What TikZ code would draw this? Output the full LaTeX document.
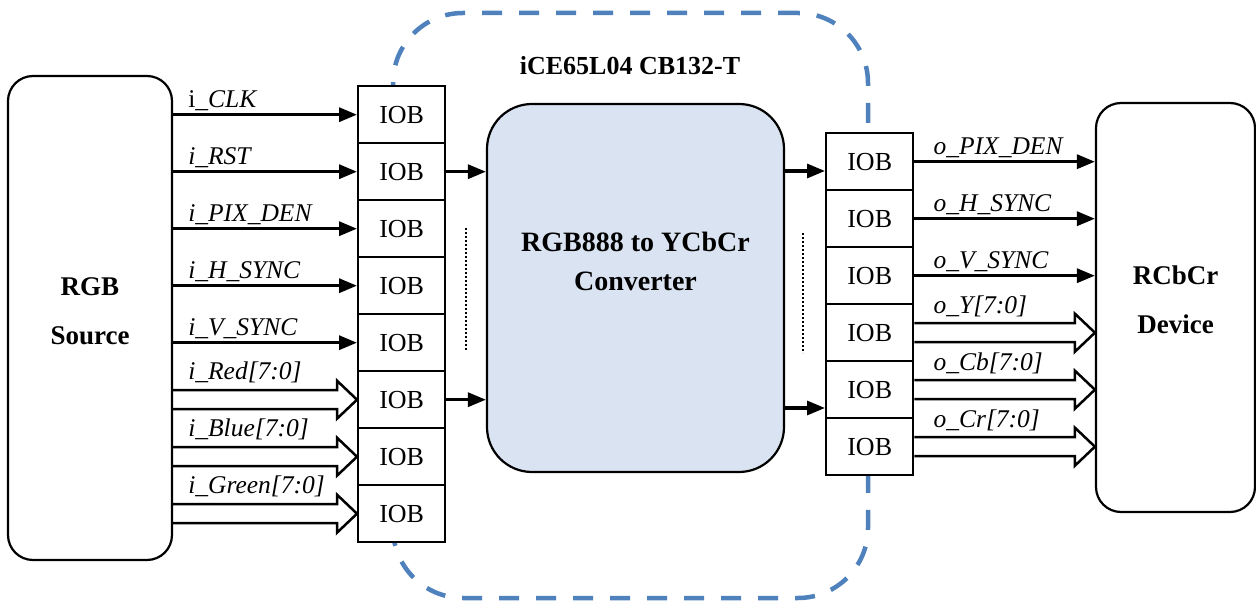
\documentclass[tikz,border=0pt]{standalone}
\usepackage{fontspec}
\setmainfont{Liberation Serif}
\usetikzlibrary{arrows.meta,calc}

\definecolor{chipblue}{RGB}{79,129,189}
\definecolor{convfill}{RGB}{218,227,241}

% hollow bus arrow from #1 to the tip #2
\newcommand\busarrow[2]{%
  \draw[bus] ($(#1)+(0,-9.5)$) -- ($(#2)+(-20,-9.5)$) -- ($(#2)+(-20,-19)$)
    -- (#2) -- ($(#2)+(-20,19)$) -- ($(#2)+(-20,9.5)$) -- ($(#1)+(0,9.5)$);}

\begin{document}
\begin{tikzpicture}[x=1pt,y=-1pt,
  iob/.style={draw, line width=2.4pt, fill=white, minimum width=87pt,
    minimum height=57pt, inner sep=0pt, anchor=north west,
    font=\fontsize{26}{30}\selectfont},
  blk/.style={draw, line width=2.2pt},
  blktxt/.style={align=center, font=\fontsize{27}{49}\selectfont\bfseries},
  chipbox/.style={draw=chipblue, line width=4.5pt, rounded corners=70pt,
    dash pattern=on 20pt off 17pt},
  sig/.style={line width=3.2pt, -{Triangle[length=18pt,width=14pt]}},
  bus/.style={line width=2.5pt, line join=miter},
  lbl/.style={anchor=base west, inner sep=0pt,
    font=\fontsize{25.5}{30}\selectfont\itshape},
  dots/.style={line width=1.8pt, dash pattern=on 1.8pt off 2.2pt},
]
\useasboundingbox (0,0) rectangle (1256,601);

% FPGA outline
\node[chipbox, minimum width=475pt, minimum height=585pt] (chip) at (630.5,305.5) {};
\node[font=\fontsize{26}{30}\selectfont\bfseries] (title) at (630,66) {iCE65L04 CB132-T};

% source, converter and sink
\node[blk, rounded corners=25pt, minimum width=164pt, minimum height=484pt] (src) at (90,318) {};
\node[blktxt] (srctxt) at ($(src.center)+(0,-7)$) {RGB\\Source};
\node[draw, line width=2.2pt, fill=convfill, rounded corners=45pt,
  minimum width=297pt, minimum height=368pt] (conv) at (635.5,288) {};
\node[blktxt, font=\fontsize{28}{39}\selectfont\bfseries] (convtxt)
  at ($(conv.center)+(0,-27)$) {RGB888 to YCbCr\\Converter};
\node[blk, rounded corners=25pt, minimum width=159pt, minimum height=409pt] (dev) at (1175.5,307.5) {};
\node[blktxt] (devtxt) at ($(dev.center)+(0,-8)$) {RCbCr\\Device};

% input IOB column
\foreach \i [evaluate=\i as \y using {85+57*(\i-1)}] in {1,...,8}
  \node[iob] (L\i) at (357,\y) {IOB};
% output IOB column
\foreach \i [evaluate=\i as \y using {132+57*(\i-1)}] in {1,...,6}
  \node[iob] (R\i) at (825,\y) {IOB};

% input signals
\foreach \i in {1,...,5}
  \draw[sig] (src.east |- L\i.west) -- (L\i.west);
\foreach \i in {6,7,8} {
  \coordinate (bs\i) at (src.east |- L\i.west);
  \busarrow{bs\i}{L\i.west}
}
\node[lbl] (tclk) at ($(src.east |- L1.west)+(15,-7)$) {\upshape i\_\itshape CLK};
\node[lbl] (trst) at ($(src.east |- L2.west)+(15,-7)$) {i\_RST};
\node[lbl] (tden) at ($(src.east |- L3.west)+(15,-7)$) {i\_PIX\_DEN};
\node[lbl] (thsy) at ($(src.east |- L4.west)+(15,-7)$) {i\_H\_SYNC};
\node[lbl] (tvsy) at ($(src.east |- L5.west)+(15,-7)$) {i\_V\_SYNC};
\node[lbl] (tred) at ($(src.east |- L6.west)+(15,-20)$) {i\_Red[7:0]};
\node[lbl] (tblu) at ($(src.east |- L7.west)+(15,-20)$) {i\_Blue[7:0]};
\node[lbl] (tgrn) at ($(src.east |- L8.west)+(15,-20)$) {i\_Green[7:0]};

% IOB to converter and back
\draw[sig] (L2.east) -- (conv.west |- L2.east);
\draw[sig] (L6.east) -- (conv.west |- L6.east);
\coordinate (co1) at (conv.east |- 0,171);
\coordinate (co2) at (conv.east |- 0,408);
\draw[sig] (co1) -- (R1.west |- co1);
\draw[sig] (co2) -- (R1.west |- co2);

% elided channels
\coordinate (dl1) at (466,228);
\coordinate (dl2) at (466,350);
\draw[dots] (dl1) -- (dl2);
\coordinate (dr1) at (803,233);
\coordinate (dr2) at (803,353);
\draw[dots] (dr1) -- (dr2);

% output signals
\foreach \i in {1,2,3}
  \draw[sig] (R\i.east) -- (dev.west |- R\i.east);
\foreach \i in {4,5,6} {
  \coordinate (bt\i) at (dev.west |- R\i.east);
  \busarrow{R\i.east}{bt\i}
}
\node[lbl] (tpd) at ($(R1.east)+(19,-7)$) {o\_PIX\_DEN};
\node[lbl] (ths) at ($(R2.east)+(19,-7)$) {o\_H\_SYNC};
\node[lbl] (tvs) at ($(R3.east)+(19,-7)$) {o\_V\_SYNC};
\node[lbl] (ty)  at ($(R4.east)+(19,-19)$) {o\_Y[7:0]};
\node[lbl] (tcb) at ($(R5.east)+(19,-19)$) {o\_Cb[7:0]};
\node[lbl] (tcr) at ($(R6.east)+(19,-19)$) {o\_Cr[7:0]};
\end{tikzpicture}
\end{document}
